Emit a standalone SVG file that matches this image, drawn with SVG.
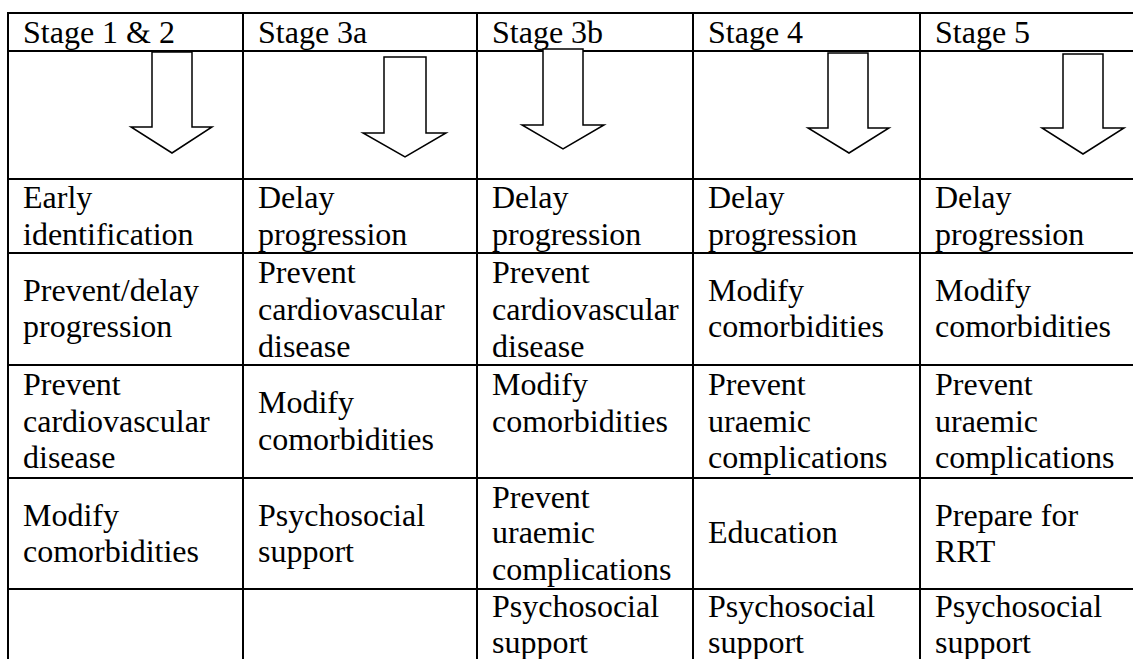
<svg xmlns="http://www.w3.org/2000/svg" width="1133" height="659" viewBox="0 0 1133 659">
<style>
.grid line{stroke:#000;stroke-width:2}
.arrow{fill:#fff;stroke:#000;stroke-width:1.5;stroke-linejoin:miter}
text{font-family:"Liberation Serif","Times New Roman",serif;font-size:32px;fill:#000}
</style>
<rect width="1133" height="659" fill="#fff"/>
<g id="grid" class="grid">
<line x1="7" y1="13" x2="1133" y2="13"/>
<line x1="7" y1="51" x2="1133" y2="51"/>
<line x1="7" y1="179" x2="1133" y2="179"/>
<line x1="7" y1="253" x2="1133" y2="253"/>
<line x1="7" y1="365" x2="1133" y2="365"/>
<line x1="7" y1="478" x2="1133" y2="478"/>
<line x1="7" y1="589" x2="1133" y2="589"/>
<line x1="8" y1="12" x2="8" y2="659"/>
<line x1="243" y1="12" x2="243" y2="659"/>
<line x1="477" y1="12" x2="477" y2="659"/>
<line x1="693" y1="12" x2="693" y2="659"/>
<line x1="920" y1="12" x2="920" y2="659"/>
</g>
<g id="headers">
<text x="23" y="43">Stage 1 &amp; 2</text>
<text x="258" y="43">Stage 3a</text>
<text x="492" y="43">Stage 3b</text>
<text x="708" y="43">Stage 4</text>
<text x="935" y="43">Stage 5</text>
</g>
<g id="connectors">
<polygon class="arrow" points="152,52 192,52 192,127 212,127 172,153 131,127 152,127"/>
<polygon class="arrow" points="384,57 426,57 426,133 446,133 405,157 363,133 384,133"/>
<polygon class="arrow" points="543,49 583,49 583,125 604,125 563,149 522,125 543,125"/>
<polygon class="arrow" points="828,53 868,53 868,128 889,128 849,153 808,128 828,128"/>
<polygon class="arrow" points="1063,54 1103,54 1103,128 1124,128 1083,154 1042,128 1063,128"/>
</g>
<g id="col1">
<text x="23" y="208">Early</text><text x="23" y="245">identification</text>
<text x="23" y="301">Prevent/delay</text><text x="23" y="337">progression</text>
<text x="23" y="395">Prevent</text><text x="23" y="432">cardiovascular</text><text x="23" y="468">disease</text>
<text x="23" y="526">Modify</text><text x="23" y="562">comorbidities</text>
</g>
<g id="col2">
<text x="258" y="208">Delay</text><text x="258" y="245">progression</text>
<text x="258" y="283">Prevent</text><text x="258" y="320">cardiovascular</text><text x="258" y="357">disease</text>
<text x="258" y="413">Modify</text><text x="258" y="450">comorbidities</text>
<text x="258" y="526">Psychosocial</text><text x="258" y="562">support</text>
</g>
<g id="col3">
<text x="492" y="208">Delay</text><text x="492" y="245">progression</text>
<text x="492" y="283">Prevent</text><text x="492" y="320">cardiovascular</text><text x="492" y="357">disease</text>
<text x="492" y="395">Modify</text><text x="492" y="432">comorbidities</text>
<text x="492" y="508">Prevent</text><text x="492" y="543">uraemic</text><text x="492" y="580">complications</text>
<text x="492" y="617">Psychosocial</text><text x="492" y="653">support</text>
</g>
<g id="col4">
<text x="708" y="208">Delay</text><text x="708" y="245">progression</text>
<text x="708" y="301">Modify</text><text x="708" y="337">comorbidities</text>
<text x="708" y="395">Prevent</text><text x="708" y="432">uraemic</text><text x="708" y="468">complications</text>
<text x="708" y="543">Education</text>
<text x="708" y="617">Psychosocial</text><text x="708" y="653">support</text>
</g>
<g id="col5">
<text x="935" y="208">Delay</text><text x="935" y="245">progression</text>
<text x="935" y="301">Modify</text><text x="935" y="337">comorbidities</text>
<text x="935" y="395">Prevent</text><text x="935" y="432">uraemic</text><text x="935" y="468">complications</text>
<text x="935" y="526">Prepare for</text><text x="935" y="562">RRT</text>
<text x="935" y="617">Psychosocial</text><text x="935" y="653">support</text>
</g>
</svg>
